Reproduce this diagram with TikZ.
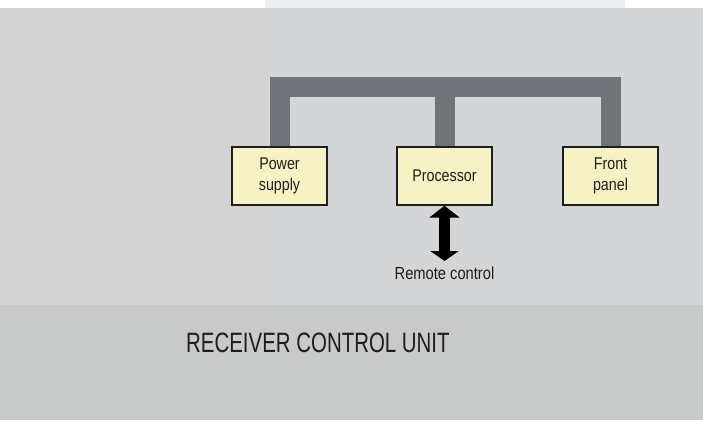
\documentclass[tikz,border=0pt]{standalone}
\usepackage{fontspec}
\usetikzlibrary{arrows.meta}
\newfontfamily\condsans[FakeStretch=0.84]{Liberation Sans}
\newfontfamily\titlesans[FakeStretch=0.73]{Liberation Sans}
\definecolor{bgupper}{HTML}{D3D5D7}
\definecolor{bgleft}{HTML}{D1D2D1}
\definecolor{bglower}{HTML}{C8C9C9}
\definecolor{bgtop}{HTML}{EEEFF0}
\definecolor{busgray}{HTML}{707479}
\definecolor{boxfill}{HTML}{F7F2C4}
\definecolor{inkc}{HTML}{1E1E1E}
\tikzset{
  unitbox/.style={draw=inkc, line width=1.4pt, fill=boxfill, minimum width=95pt,
    minimum height=58pt, inner sep=0pt, align=center, text=inkc,
    font=\condsans\fontsize{17}{21}\selectfont},
  bus/.style={draw=busgray, line width=20pt, line join=miter, line cap=butt},
  dblarrow/.style={draw=black, line width=11pt,
    {Triangle[length=12pt,width=30pt]}-{Triangle[length=10pt,width=28pt]}},
  smalllabel/.style={text=inkc, inner sep=0pt, font=\condsans\fontsize{17.5}{20}\selectfont},
  titlelabel/.style={text=inkc, inner sep=0pt, font=\titlesans\fontsize{28}{32}\selectfont}
}
\begin{document}
\begin{tikzpicture}[x=1pt,y=-1pt]
\useasboundingbox (0,0) rectangle (703,420);
% background
\fill[white] (0,0) rectangle (703,420);
\fill[bgupper] (0,8) rectangle (703,305);
\fill[bgleft] (0,8) rectangle (265,305);
\fill[bgtop] (265,0) rectangle (625,8);
\fill[bglower] (0,305) rectangle (703,420);
% nodes
\node[unitbox] (ps) at (279.5,176) {Power\\supply};
\node[unitbox] (pr) at (444.5,176) {Processor};
\node[unitbox] (fp) at (610.5,176) {Front\\panel};
\coordinate (bustop) at (444.5,87);
\node[smalllabel, anchor=north] (rc) at (444.5,267) {Remote control};
\node[titlelabel, anchor=base west] (title) at (186,352) {RECEIVER CONTROL UNIT};
% bus
\draw[bus] (ps.north) |- (bustop) -| (fp.north);
\draw[bus] (pr.north) -- (bustop);
% redraw boxes on top of bus
\node[unitbox] at (ps) {Power\\supply};
\node[unitbox] at (pr) {Processor};
\node[unitbox] at (fp) {Front\\panel};
% arrow
\draw[dblarrow] (pr.south) -- ([yshift=6pt]rc.north);
\end{tikzpicture}
\end{document}
